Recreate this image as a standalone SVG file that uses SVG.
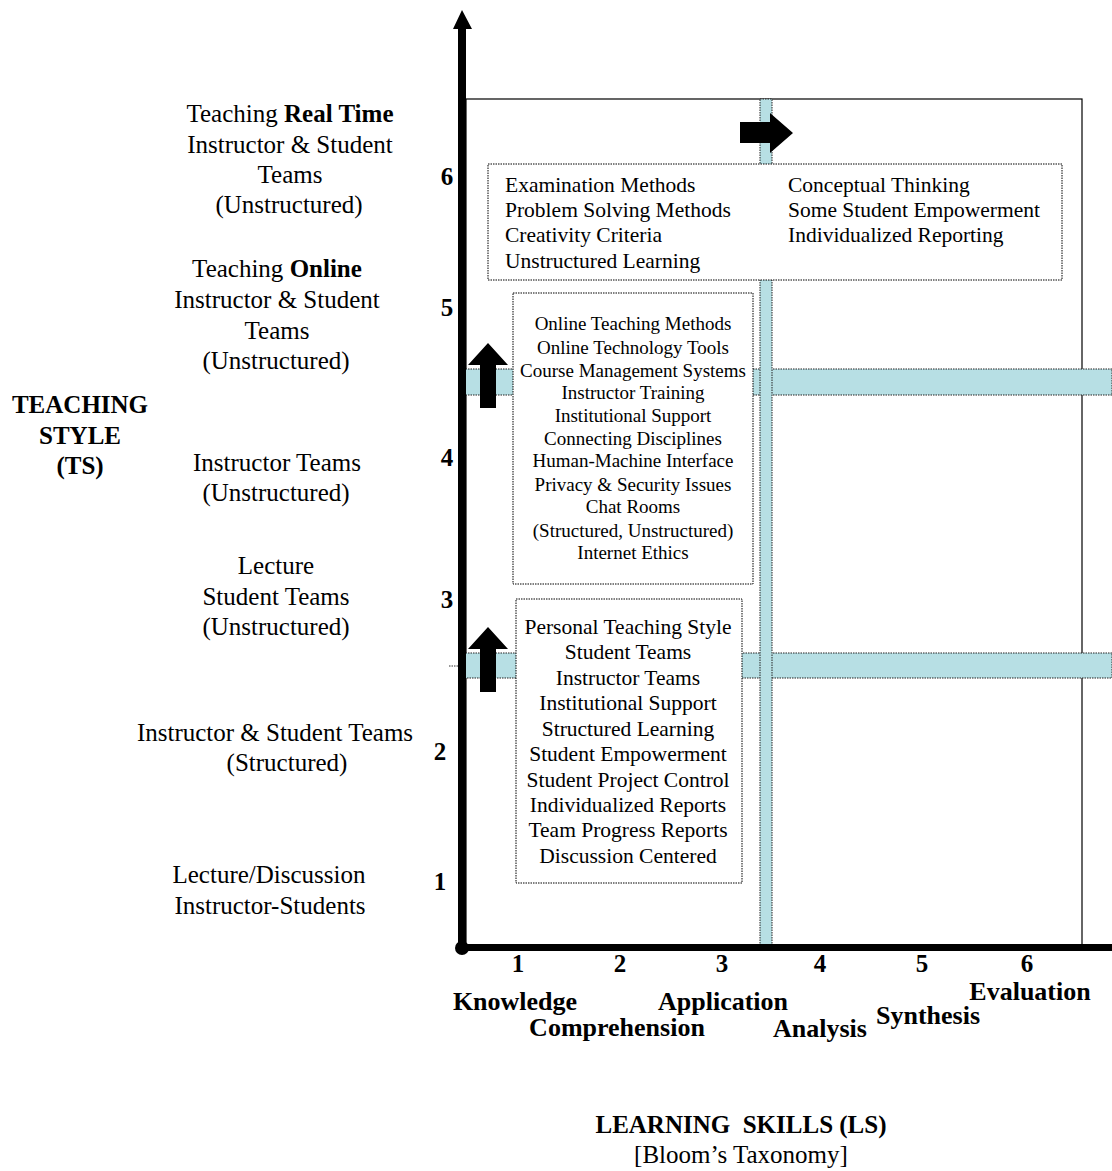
<svg xmlns="http://www.w3.org/2000/svg" width="1112" height="1171" viewBox="0 0 1112 1171">
<style>
text{font-family:"Liberation Serif","Times New Roman",serif;fill:#000}
.lbl{font-size:25px;text-anchor:middle}
.num{font-size:25px;font-weight:bold;text-anchor:middle}
.ax{font-size:26px;font-weight:bold;text-anchor:middle}
.bx{font-size:21.5px}
.bm{font-size:19px;text-anchor:middle}
.bb{font-size:21.5px;text-anchor:middle}
.box{fill:#fff;stroke:#000;stroke-width:1;stroke-dasharray:1.5 1}
.bar{fill:#b7dfe4;stroke:#222;stroke-width:1;stroke-dasharray:1.5 1}
.arr{fill:#000}
</style>
<rect width="1112" height="1171" fill="#fff"/>

<g id="frame">
<rect x="466" y="99" width="616" height="849" fill="none" stroke="#000" stroke-width="1.2"/>
</g>

<g id="bars">
<rect class="bar" x="463" y="369" width="649" height="26"/>
<rect class="bar" x="463" y="653" width="649" height="25"/>
<line x1="449" y1="666" x2="462" y2="666" stroke="#333" stroke-width="1" stroke-dasharray="1.5 1"/>
<rect class="bar" x="760" y="99" width="12" height="849"/>
</g>

<g id="connectors">
<polygon class="arr" points="458,948 458,29 453,29 462,10 472,29 466,29 466,948"/>
<rect class="arr" x="462" y="944" width="650" height="7"/>
<circle class="arr" cx="462" cy="948" r="7"/>
<polygon class="arr" points="480,408 480,365 468,365 488,343 508,365 496,365 496,408"/>
<polygon class="arr" points="480,692 480,649 468,649 488,627 508,649 496,649 496,692"/>
<polygon class="arr" points="740,122 770,122 770,113 793,133 770,153 770,143 740,143"/>
</g>

<g id="box-top">
<rect class="box" x="488" y="164" width="574" height="116"/>
<text class="bx" x="505" y="192">Examination Methods</text>
<text class="bx" x="505" y="217">Problem Solving Methods</text>
<text class="bx" x="505" y="242">Creativity Criteria</text>
<text class="bx" x="505" y="268">Unstructured Learning</text>
<text class="bx" x="788" y="192">Conceptual Thinking</text>
<text class="bx" x="788" y="217">Some Student Empowerment</text>
<text class="bx" x="788" y="242">Individualized Reporting</text>
</g>

<g id="box-middle">
<rect class="box" x="513" y="293" width="240" height="291"/>
<text class="bm" x="633" y="330">Online Teaching Methods</text>
<text class="bm" x="633" y="354">Online Technology Tools</text>
<text class="bm" x="633" y="377">Course Management Systems</text>
<text class="bm" x="633" y="399">Instructor Training</text>
<text class="bm" x="633" y="422">Institutional Support</text>
<text class="bm" x="633" y="445">Connecting Disciplines</text>
<text class="bm" x="633" y="467">Human-Machine Interface</text>
<text class="bm" x="633" y="491">Privacy &amp; Security Issues</text>
<text class="bm" x="633" y="513">Chat Rooms</text>
<text class="bm" x="633" y="537">(Structured, Unstructured)</text>
<text class="bm" x="633" y="559">Internet Ethics</text>
</g>

<g id="box-bottom">
<rect class="box" x="516" y="599" width="226" height="284"/>
<text class="bb" x="628" y="634">Personal Teaching Style</text>
<text class="bb" x="628" y="659">Student Teams</text>
<text class="bb" x="628" y="685">Instructor Teams</text>
<text class="bb" x="628" y="710">Institutional Support</text>
<text class="bb" x="628" y="736">Structured Learning</text>
<text class="bb" x="628" y="761">Student Empowerment</text>
<text class="bb" x="628" y="787">Student Project Control</text>
<text class="bb" x="628" y="812">Individualized Reports</text>
<text class="bb" x="628" y="837">Team Progress Reports</text>
<text class="bb" x="628" y="863">Discussion Centered</text>
</g>

<g id="ts-title">
<text class="num" x="80" y="413">TEACHING</text>
<text class="num" x="80" y="444">STYLE</text>
<text class="num" x="80" y="474">(TS)</text>
</g>

<g id="ts-6">
<text class="lbl" x="290" y="122">Teaching <tspan font-weight="bold">Real Time</tspan></text>
<text class="lbl" x="290" y="153">Instructor &amp; Student</text>
<text class="lbl" x="290" y="183">Teams</text>
<text class="lbl" x="289" y="213">(Unstructured)</text>
<text class="num" x="447" y="185">6</text>
</g>
<g id="ts-5">
<text class="lbl" x="277" y="277">Teaching <tspan font-weight="bold">Online</tspan></text>
<text class="lbl" x="277" y="308">Instructor &amp; Student</text>
<text class="lbl" x="277" y="339">Teams</text>
<text class="lbl" x="276" y="369">(Unstructured)</text>
<text class="num" x="447" y="316">5</text>
</g>
<g id="ts-4">
<text class="lbl" x="277" y="471">Instructor Teams</text>
<text class="lbl" x="276" y="501">(Unstructured)</text>
<text class="num" x="447" y="466">4</text>
</g>
<g id="ts-3">
<text class="lbl" x="276" y="574">Lecture</text>
<text class="lbl" x="276" y="605">Student Teams</text>
<text class="lbl" x="276" y="635">(Unstructured)</text>
<text class="num" x="447" y="608">3</text>
</g>
<g id="ts-2">
<text class="lbl" x="275" y="741">Instructor &amp; Student Teams</text>
<text class="lbl" x="287" y="771">(Structured)</text>
<text class="num" x="440" y="760">2</text>
</g>
<g id="ts-1">
<text class="lbl" x="269" y="883">Lecture/Discussion</text>
<text class="lbl" x="270" y="914">Instructor-Students</text>
<text class="num" x="440" y="890">1</text>
</g>

<g id="ls-axis">
<text class="num" x="518" y="972">1</text>
<text class="num" x="620" y="972">2</text>
<text class="num" x="722" y="972">3</text>
<text class="num" x="820" y="972">4</text>
<text class="num" x="922" y="972">5</text>
<text class="num" x="1027" y="972">6</text>
<text class="ax" x="515" y="1010">Knowledge</text>
<text class="ax" x="617" y="1036">Comprehension</text>
<text class="ax" x="723" y="1010">Application</text>
<text class="ax" x="820" y="1037">Analysis</text>
<text class="ax" x="928" y="1024">Synthesis</text>
<text class="ax" x="1030" y="1000">Evaluation</text>
</g>

<g id="ls-title">
<text class="num" x="741" y="1133" xml:space="preserve" style="white-space:pre">LEARNING  SKILLS (LS)</text>
<text class="lbl" x="741" y="1163">[Bloom’s Taxonomy]</text>
</g>
</svg>
